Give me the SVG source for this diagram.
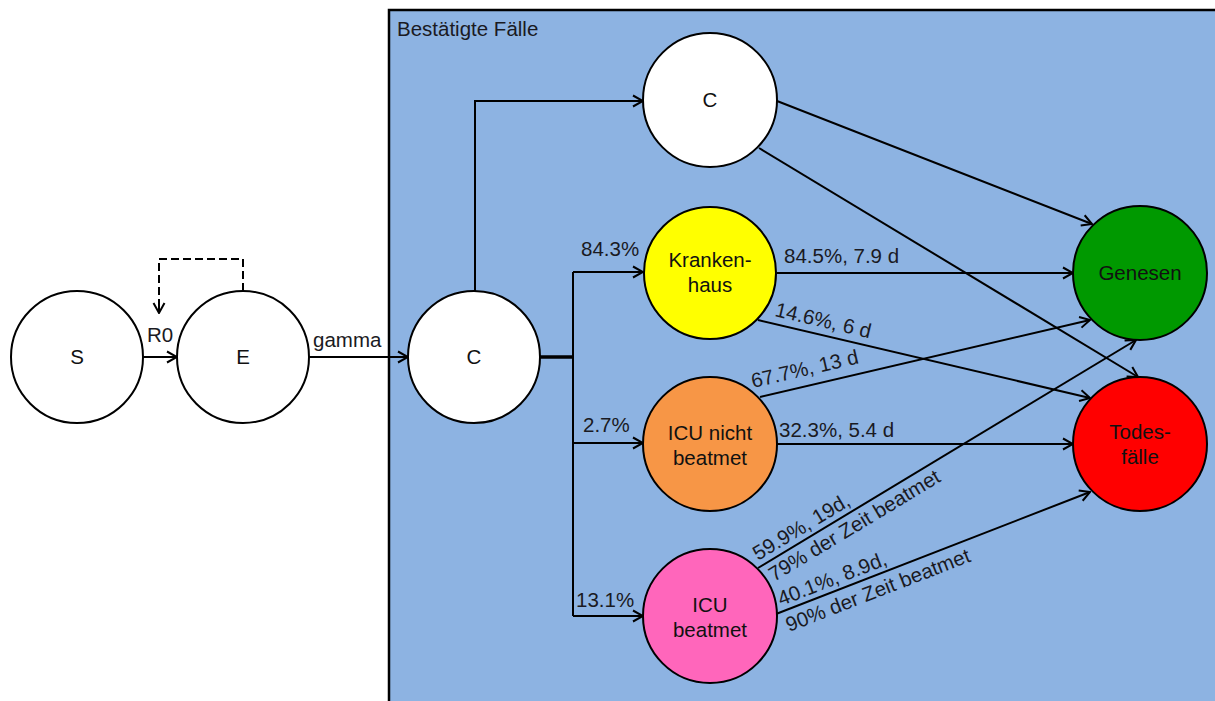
<svg xmlns="http://www.w3.org/2000/svg" width="1215" height="701" viewBox="0 0 1215 701">
<defs>
<marker id="arr" markerUnits="userSpaceOnUse" markerWidth="14" markerHeight="14" viewBox="0 0 14 14" refX="13" refY="7" orient="auto">
<path d="M3,1.5 L13,7 L3,12.5" fill="none" stroke="#000" stroke-width="2"/>
</marker>
</defs>
<style>
.nd{stroke:#000;stroke-width:2}
.t{font-family:"Liberation Sans",Arial,sans-serif;font-size:20.5px;fill:#1a1a22}
.tc{font-family:"Liberation Sans",Arial,sans-serif;font-size:20.5px;fill:#111;text-anchor:middle}
.ln{fill:none;stroke:#000;stroke-width:2}
</style>
<rect width="1215" height="701" fill="#fff"/>
<g id="box">
<rect x="389" y="10" width="840" height="700" fill="#8DB3E2" stroke="#000" stroke-width="2.5"/>
<text class="t" x="397" y="36">Bestätigte Fälle</text>
</g>
<g id="connectors">
<line class="ln" x1="143" y1="357" x2="177" y2="357" marker-end="url(#arr)"/>
<polyline class="ln" points="243,291 243,259 159,259 159,306" stroke-dasharray="8,4"/>
<line class="ln" x1="159" y1="300" x2="159" y2="313" marker-end="url(#arr)"/>
<line class="ln" x1="309" y1="357" x2="408" y2="357" marker-end="url(#arr)"/>
<polyline class="ln" points="475,291 475,101 643,101" marker-end="url(#arr)"/>
<line x1="540" y1="357" x2="574" y2="357" stroke="#000" stroke-width="3.5"/>
<polyline class="ln" points="573,272 573,616"/>
<line class="ln" x1="573" y1="272" x2="643" y2="272" marker-end="url(#arr)"/>
<line class="ln" x1="573" y1="443" x2="643" y2="443" marker-end="url(#arr)"/>
<line class="ln" x1="573" y1="616" x2="643" y2="616" marker-end="url(#arr)"/>
<line class="ln" x1="777" y1="101" x2="1092" y2="224" marker-end="url(#arr)"/>
<line class="ln" x1="759" y1="148" x2="1138" y2="377" marker-end="url(#arr)"/>
<line class="ln" x1="777" y1="273" x2="1073" y2="273" marker-end="url(#arr)"/>
<line class="ln" x1="758" y1="320" x2="1090" y2="398" marker-end="url(#arr)"/>
<line class="ln" x1="760" y1="397" x2="1090" y2="320" marker-end="url(#arr)"/>
<line class="ln" x1="777" y1="444" x2="1073" y2="444" marker-end="url(#arr)"/>
<line class="ln" x1="758" y1="568" x2="1136" y2="340" marker-end="url(#arr)"/>
<line class="ln" x1="776" y1="614" x2="1090" y2="492" marker-end="url(#arr)"/>
<text class="t" x="147" y="342">R0</text>
<text class="t" x="313" y="347">gamma</text>
<text class="t" x="581" y="256">84.3%</text>
<text class="t" x="583" y="432">2.7%</text>
<text class="t" x="576" y="607">13.1%</text>
<text class="t" x="784" y="263">84.5%, 7.9 d</text>
<text class="t" x="779" y="437">32.3%, 5.4 d</text>
<text class="t" transform="translate(774,316) rotate(13.2)">14.6%, 6 d</text>
<text class="t" transform="translate(753,388) rotate(-13.1)">67.7%, 13 d</text>
<text class="t" transform="translate(758,561) rotate(-31.1)">59.9%, 19d,</text>
<text class="t" transform="translate(774,582) rotate(-31.1)">79% der Zeit beatmet</text>
<text class="t" transform="translate(781,606) rotate(-21.2)">40.1%, 8.9d,</text>
<text class="t" transform="translate(789,632) rotate(-21.2)">90% der Zeit beatmet</text>
</g>
<g id="S"><circle class="nd" cx="77" cy="357" r="66" fill="#fff"/><text class="tc" x="77" y="364">S</text></g>
<g id="E"><circle class="nd" cx="243" cy="357" r="66" fill="#fff"/><text class="tc" x="243" y="364">E</text></g>
<g id="C1"><circle class="nd" cx="474" cy="357" r="66" fill="#fff"/><text class="tc" x="474" y="364">C</text></g>
<g id="C2"><circle class="nd" cx="710" cy="100" r="67" fill="#fff"/><text class="tc" x="710" y="107">C</text></g>
<g id="Krankenhaus"><circle class="nd" cx="710" cy="273" r="66" fill="#FFFF00"/><text class="tc" x="710" y="267">Kranken-</text><text class="tc" x="710" y="292">haus</text></g>
<g id="ICUnicht"><circle class="nd" cx="710" cy="444" r="67" fill="#F79646"/><text class="tc" x="710" y="440">ICU nicht</text><text class="tc" x="710" y="465">beatmet</text></g>
<g id="ICUbeatmet"><circle class="nd" cx="710" cy="616" r="67" fill="#FF66BB"/><text class="tc" x="710" y="612">ICU</text><text class="tc" x="710" y="637">beatmet</text></g>
<g id="Genesen"><circle class="nd" cx="1140" cy="273" r="67" fill="#009900"/><text class="tc" x="1140" y="280">Genesen</text></g>
<g id="Todesfaelle"><circle class="nd" cx="1140" cy="444" r="67" fill="#FF0000"/><text class="tc" x="1140" y="439">Todes-</text><text class="tc" x="1140" y="464">fälle</text></g>
</svg>
